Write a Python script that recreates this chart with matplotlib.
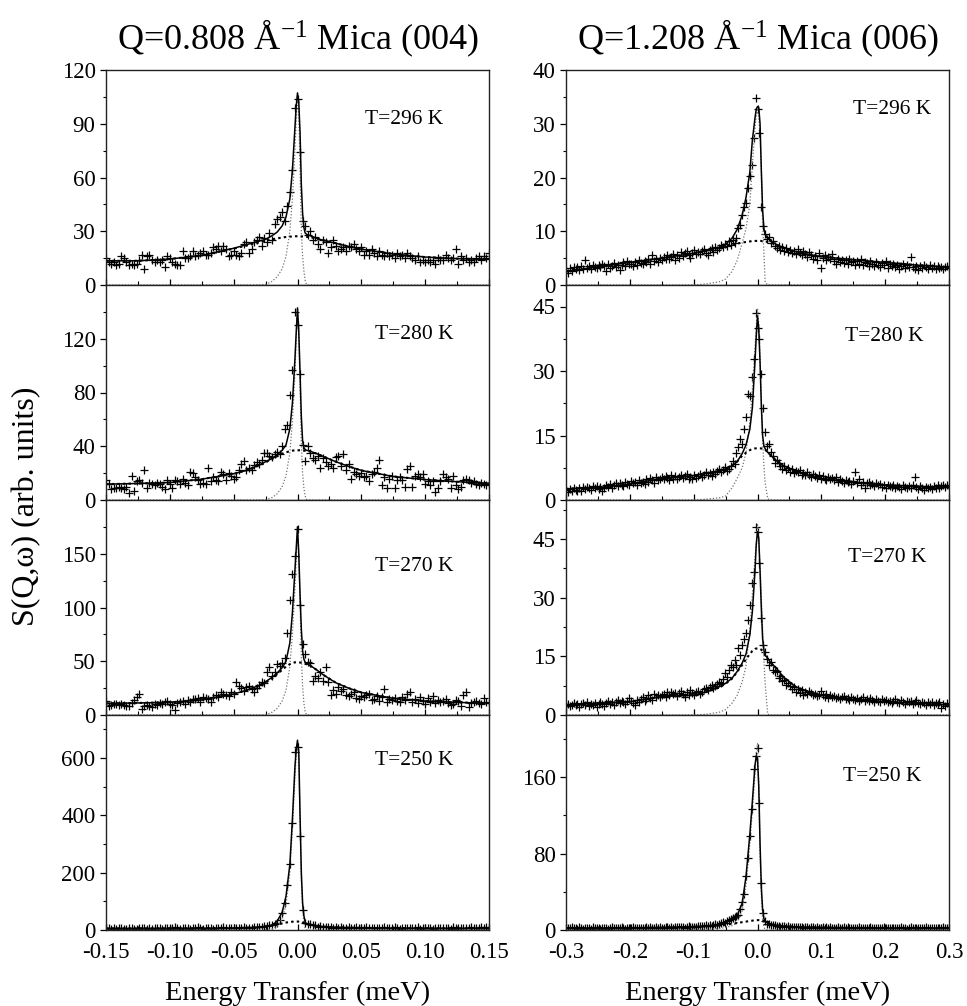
import numpy as np
import matplotlib
matplotlib.use('Agg')
import matplotlib.pyplot as plt
from matplotlib.ticker import FixedLocator, FormatStrFormatter

plt.rcParams.update({
    'font.family': 'Liberation Serif',
    'mathtext.fontset': 'custom',
    'mathtext.rm': 'Liberation Serif',
    'mathtext.it': 'Liberation Serif:italic',
    'axes.unicode_minus': False,
})

# ---------------- data: Q=0.808 (004), grid -0.15 .. 0.15 step 0.002 ----------------
q1_temps = ['T=296 K', 'T=280 K', 'T=270 K', 'T=250 K']

q1_296 = [15, 13, 12, 13, 11, 12, 16, 15, 13, 11,
          12, 11, 12, 14, 17, 9, 16, 17, 14, 13,
          14, 13, 14, 10, 16, 15, 13, 12, 11, 11,
          19, 15, 15, 16, 19, 16, 17, 18, 19, 17,
          17, 18, 21, 20, 22, 19, 22, 20, 16, 17,
          19, 17, 16, 18, 23, 24, 18, 20, 24, 25,
          27, 22, 26, 24, 29, 25, 34, 37, 38, 41,
          36, 44, 52, 64, 99, 104, 74, 36, 33, 28,
          30, 25, 27, 23, 20, 25, 24, 18, 21, 25,
          22, 19, 20, 21, 19, 22, 21, 23, 20, 19,
          21, 17, 19, 17, 20, 18, 16, 19, 17, 16,
          18, 16, 17, 15, 18, 16, 17, 15, 18, 16,
          15, 14, 16, 13, 14, 13, 14, 13, 14, 12,
          15, 14, 14, 17, 15, 14, 15, 20, 12, 16,
          14, 15, 13, 14, 13, 15, 16, 14, 16, 15,
          18]
q1_280 = [15, 12, 8, 9, 9, 10, 9, 8, 10, 5,
          18, 7, 14, 15, 13, 22, 9, 13, 12, 11,
          13, 12, 10, 8, 15, 12, 9, 15, 14, 12,
          16, 13, 11, 21, 20, 17, 15, 12, 13, 12,
          24, 14, 17, 15, 14, 21, 19, 15, 20, 18,
          16, 17, 22, 27, 29, 22, 24, 22, 26, 28,
          27, 30, 35, 35, 33, 32, 34, 36, 34, 40,
          53, 56, 78, 97, 140, 130, 94, 41, 29, 40,
          35, 31, 30, 33, 24, 31, 28, 25, 27, 24,
          32, 33, 25, 34, 22, 27, 16, 21, 19, 18,
          20, 17, 18, 14, 19, 21, 24, 30, 11, 17,
          9, 16, 18, 9, 15, 17, 15, 10, 23, 25,
          10, 18, 19, 17, 19, 12, 14, 11, 14, 6,
          9, 14, 19, 17, 16, 9, 18, 11, 8, 10,
          15, 16, 15, 13, 14, 12, 11, 13, 12, 11,
          12]
q1_270 = [13, 8, 9, 10, 10, 9, 10, 9, 8, 8,
          11, 14, 17, 20, 6, 8, 9, 8, 7, 10,
          9, 11, 10, 12, 13, 10, 9, 5, 11, 12,
          13, 10, 14, 12, 15, 15, 16, 12, 17, 16,
          15, 12, 17, 19, 17, 21, 20, 19, 18, 21,
          20, 31, 27, 25, 22, 26, 27, 24, 21, 25,
          28, 31, 30, 40, 45, 36, 40, 47, 46, 48,
          53, 76, 107, 131, 148, 173, 102, 66, 57, 49,
          48, 32, 36, 34, 40, 32, 45, 31, 19, 23,
          20, 26, 22, 24, 19, 18, 20, 21, 16, 15,
          18, 17, 19, 20, 14, 15, 18, 13, 17, 24,
          12, 15, 14, 16, 13, 12, 17, 14, 20, 21,
          12, 15, 11, 17, 13, 10, 16, 12, 18, 11,
          14, 12, 13, 15, 11, 9, 10, 14, 13, 8,
          19, 21, 7, 11, 12, 13, 11, 10, 16, 12,
          11]
q1_250 = [6, 8, 5, 7, 4, 6, 8, 5, 3, 6,
          7, 5, 4, 6, 8, 7, 5, 6, 4, 7,
          6, 8, 5, 7, 6, 4, 7, 9, 6, 5,
          7, 6, 8, 5, 6, 7, 9, 6, 5, 8,
          6, 7, 5, 8, 7, 6, 9, 7, 6, 8,
          7, 6, 8, 7, 9, 6, 8, 7, 9, 10,
          12, 11, 14, 13, 17, 16, 20, 24, 35, 59,
          94, 156, 229, 373, 621, 639, 328, 70, 23, 22,
          21, 17, 16, 12, 14, 10, 11, 9, 10, 8,
          9, 7, 10, 8, 7, 9, 8, 6, 9, 7,
          8, 6, 9, 7, 8, 6, 7, 8, 6, 9,
          7, 8, 6, 9, 7, 5, 8, 7, 6, 8,
          6, 7, 9, 5, 7, 8, 6, 7, 5, 8,
          7, 6, 8, 6, 7, 5, 9, 6, 7, 8,
          6, 8, 7, 9, 6, 7, 8, 10, 7, 9,
          8]

# fit curves (total / broad / narrow) read at these energies
q1_fit_e = [-0.15, -0.125, -0.1, -0.075, -0.05, -0.04, -0.03, -0.025, -0.02, -0.016,
            -0.012, -0.009, -0.006, -0.004, -0.002, -0.001, 0.0, 0.001, 0.002, 0.003,
            0.004, 0.005, 0.006, 0.007, 0.008, 0.01, 0.015, 0.02, 0.03, 0.04,
            0.05, 0.075, 0.1, 0.125, 0.15]
q1_total = [
    [13.5, 13.5, 14.5, 16.5, 20.5, 22.5, 24.5, 25.5, 27.5, 29.5, 33, 38, 48, 64, 88, 100, 107, 102,
     85, 56, 40, 32, 29, 28.4, 28, 27.5, 26, 25, 23.3, 21.5, 20, 17.3, 15.6, 14.7, 14.3],
    [11.8, 12.3, 13, 15.5, 19.5, 22, 26, 28.5, 31, 33.5, 37, 41, 53, 72, 105, 125, 143, 125,
     95, 62, 44, 39, 37.5, 37, 36.8, 36.3, 34.5, 32.5, 28.5, 25, 22, 17.5, 15.2, 13.6, 12.5],
    [10.8, 11.2, 11.8, 14, 19.5, 23, 27.5, 31, 35, 39, 44, 50, 67, 95, 135, 155, 175, 150,
     112, 80, 60, 52, 49, 48, 47.3, 46, 42, 37.5, 30, 25, 21, 15.5, 13, 11.7, 11],
    [5.5, 5.5, 5.7, 6, 7, 8, 10.5, 12.5, 17, 30, 62, 118, 228, 385, 570, 630, 662, 620,
     400, 200, 95, 50, 28, 22, 20, 17.5, 14, 12, 9.5, 8.2, 7.4, 6.4, 6, 5.7, 5.6],
]
q1_broad = [
    [13.5, 13.5, 14.5, 16.5, 20.3, 22, 23.8, 24.7, 25.5, 26, 26.5, 26.8, 27, 27.1, 27.2, 27.2, 27.2, 27.2,
     27.2, 27.1, 27.1, 27, 27, 26.9, 26.8, 26.6, 25.9, 25, 23.3, 21.5, 20, 17.3, 15.6, 14.7, 14.3],
    [11.8, 12.3, 13, 15.5, 19.5, 22, 25.7, 28, 30.5, 32.5, 34.5, 35.5, 36.3, 36.7, 37, 37, 37, 37,
     37, 36.9, 36.8, 36.7, 36.6, 36.5, 36.3, 36, 34.5, 32.5, 28.5, 25, 22, 17.5, 15.2, 13.6, 12.5],
    [10.8, 11.2, 11.8, 14, 19.5, 23, 27, 30, 34, 38, 42, 45, 47.3, 48.3, 49, 49, 49, 49,
     48.8, 48.6, 48.3, 48, 47.6, 47.2, 46.8, 45.8, 42, 37.5, 30, 25, 21, 15.5, 13, 11.7, 11],
    [5.5, 5.5, 5.7, 6, 7, 8, 10, 11.5, 15, 19, 23, 26, 28, 29, 29.5, 29.5, 29.5, 29.3,
     29, 28.5, 27, 25.5, 24, 22, 20, 17.5, 14, 12, 9.5, 8.2, 7.4, 6.4, 6, 5.7, 5.6],
]
q1_narrow = [
    [0, 0, 0, 0, 0, 0, 0, 0.3, 2, 4.5, 9, 16, 30, 48, 75, 92, 108, 95,
     65, 30, 16, 8, 2.5, 0.3, 0, 0, 0, 0, 0, 0, 0, 0, 0, 0, 0],
    [0, 0, 0, 0, 0, 0, 0, 0.2, 1.8, 4.5, 10, 18, 35, 58, 95, 120, 143, 125,
     85, 42, 20, 9, 3, 0.5, 0, 0, 0, 0, 0, 0, 0, 0, 0, 0, 0],
    [0, 0, 0, 0, 0, 0, 0, 0.3, 2.5, 6, 13, 23, 45, 75, 118, 145, 175, 150,
     105, 55, 27, 11, 3.5, 0.5, 0, 0, 0, 0, 0, 0, 0, 0, 0, 0, 0],
    [0, 0, 0, 0, 0, 0, 0.2, 1, 4, 12, 38, 88, 200, 355, 535, 610, 650, 600,
     380, 175, 72, 25, 6, 1, 0, 0, 0, 0, 0, 0, 0, 0, 0, 0, 0],
]

# ---------------- data: Q=1.208 (006), grid -0.3 .. 0.3 step 0.003 ----------------
q2_temps = ['T=296 K', 'T=280 K', 'T=270 K', 'T=250 K']

q2_296 = [2.8, 2.2, 3.1, 2.6, 3.4, 2.9, 3.3, 2.7, 3.6, 3.0,
          4.6, 3.2, 3.5, 2.9, 3.8, 3.4, 3.1, 3.7, 3.3, 4.0,
          3.5, 2.6, 3.9, 3.2, 3.6, 4.1, 3.4, 3.8, 2.8, 3.7,
          4.2, 3.6, 4.4, 3.9, 4.0, 3.5, 4.3, 3.8, 4.6, 4.1,
          3.9, 4.5, 4.2, 4.8, 4.0, 5.5, 4.4, 4.9, 4.3, 5.1,
          4.7, 5.2, 4.8, 5.6, 4.9, 5.3, 5.8, 4.7, 5.5, 5.0,
          6.2, 5.4, 5.9, 6.4, 5.6, 5.1, 6.0, 6.5, 5.7, 6.1,
          5.8, 6.3, 6.7, 6.0, 5.5, 6.6, 6.9, 6.2, 7.1, 6.5,
          6.8, 7.4, 7.0, 7.6, 7.2, 8.1, 7.5, 8.4, 7.9, 8.8,
          10.6, 11.2, 13.0, 14.5, 15.2, 18.0, 20.2, 22.3, 27.3, 34.7,
          32.8, 28.2, 14.6, 10.9, 9.4, 8.6, 9.0, 7.8, 8.2, 7.2,
          6.8, 7.3, 6.5, 7.0, 6.3, 6.9, 6.1, 6.6, 5.9, 6.4,
          5.8, 6.7, 6.0, 5.5, 6.3, 5.7, 5.2, 6.1, 5.6, 4.9,
          5.4, 4.7, 5.9, 3.1, 5.0, 5.5, 4.6, 5.2, 4.8, 5.7,
          4.5, 3.9, 4.9, 4.3, 4.7, 4.1, 4.6, 4.0, 4.8, 4.2,
          4.5, 3.8, 4.4, 4.0, 4.9, 3.7, 4.3, 4.1, 3.6, 4.5,
          4.0, 3.5, 4.2, 3.8, 3.3, 4.1, 3.7, 4.4, 3.2, 3.9,
          3.6, 4.0, 3.4, 3.8, 2.9, 3.5, 3.9, 3.1, 3.7, 3.3,
          5.2, 3.4, 3.0, 3.6, 2.8, 3.5, 3.2, 3.8, 3.3, 3.0,
          3.7, 3.2, 3.5, 2.9, 3.6, 3.1, 3.4, 3.0, 3.3, 3.5,
          3.1]
q2_280 = [2.3, 1.8, 2.6, 2.1, 2.9, 2.4, 2.0, 2.7, 2.2, 3.0,
          2.5, 3.1, 2.7, 2.3, 3.2, 2.8, 3.3, 2.6, 3.0, 2.2,
          2.9, 3.4, 3.1, 3.7, 2.8, 3.5, 3.9, 3.2, 4.0, 3.6,
          3.3, 4.2, 3.8, 3.5, 4.4, 3.9, 4.1, 3.6, 4.6, 4.0,
          4.3, 3.7, 4.8, 4.2, 5.1, 4.6, 4.0, 5.3, 4.7, 5.0,
          5.4, 4.8, 5.6, 5.2, 4.6, 5.9, 5.0, 5.5, 4.9, 5.3,
          5.7, 5.1, 5.5, 6.1, 4.8, 5.4, 5.0, 5.8, 5.2, 5.6,
          6.0, 5.3, 5.9, 6.4, 5.7, 6.2, 5.5, 6.6, 6.1, 6.8,
          7.2, 6.5, 7.0, 7.6, 6.8, 7.3, 8.0, 9.1, 8.4, 11.0,
          12.3, 14.2, 13.0, 16.5, 19.2, 24.6, 24.2, 28.5, 32.8, 43.6,
          40.0, 37.4, 29.3, 21.5, 15.7, 12.6, 13.0, 11.2, 10.3, 8.7,
          9.4, 8.6, 7.9, 7.2, 7.8, 6.9, 7.4, 6.5, 7.1, 6.3,
          6.8, 6.4, 6.9, 5.9, 6.2, 5.7, 6.5, 5.8, 5.3, 6.0,
          5.5, 5.2, 5.8, 4.9, 5.6, 5.0, 4.6, 5.4, 4.8, 5.1,
          4.6, 5.3, 4.2, 4.9, 4.4, 3.9, 4.7, 4.1, 4.5, 3.8,
          4.4, 6.5, 4.0, 5.0, 3.6, 4.3, 2.7, 3.9, 4.2, 3.5,
          3.8, 3.2, 4.0, 3.4, 3.7, 3.1, 3.5, 2.9, 3.6, 3.3,
          3.0, 3.6, 2.8, 3.3, 3.1, 2.6, 3.4, 3.0, 2.7, 3.2,
          2.9, 3.4, 5.3, 3.0, 2.6, 3.2, 2.8, 2.4, 3.1, 2.7,
          3.0, 2.6, 3.3, 2.9, 3.5, 2.8, 3.2, 3.6, 3.0, 3.4,
          3.2]
q2_270 = [2.4, 2.9, 2.2, 2.6, 3.0, 2.5, 2.8, 2.1, 2.7, 3.1,
          2.6, 3.2, 2.3, 2.9, 2.5, 3.1, 2.0, 2.7, 3.3, 2.8,
          2.4, 3.0, 3.5, 2.8, 3.2, 2.6, 3.4, 3.9, 3.1, 3.6,
          3.3, 2.9, 3.7, 4.3, 3.5, 3.1, 2.6, 3.8, 3.4, 4.0,
          4.6, 3.7, 4.2, 5.0, 4.4, 3.9, 5.3, 4.7, 5.2, 4.5,
          5.0, 5.5, 4.6, 5.8, 5.2, 6.0, 5.4, 5.7, 4.9, 5.6,
          6.1, 5.3, 4.7, 5.9, 5.1, 6.4, 5.6, 5.0, 5.8, 6.2,
          5.5, 6.0, 6.6, 7.0, 6.3, 7.2, 7.7, 6.9, 7.4, 8.0,
          8.5, 8.1, 9.2, 10.7, 9.8, 11.4, 12.8, 12.4, 14.1, 12.9,
          17.1, 15.3, 17.8, 19.4, 21.0, 24.3, 28.1, 33.7, 36.7, 48.2,
          46.9, 38.8, 24.7, 17.9, 16.2, 14.3, 12.8, 13.5, 11.5, 10.9,
          11.2, 9.4, 10.1, 8.6, 9.0, 7.7, 8.3, 7.4, 6.6, 7.1,
          6.0, 6.7, 5.6, 6.3, 5.1, 5.9, 5.4, 6.1, 5.7, 5.0,
          5.5, 4.9, 5.2, 6.1, 5.0, 4.7, 5.4, 4.4, 5.1, 4.6,
          4.9, 4.3, 4.7, 4.0, 4.5, 4.8, 4.1, 4.4, 3.8, 4.6,
          4.2, 3.9, 4.4, 3.6, 4.1, 4.6, 3.7, 4.0, 3.5, 4.3,
          3.8, 3.4, 4.0, 3.6, 3.2, 4.1, 3.5, 3.9, 3.3, 3.7,
          3.1, 3.6, 4.2, 3.4, 3.0, 3.8, 3.3, 2.9, 3.6, 3.2,
          3.5, 2.8, 3.3, 3.9, 3.1, 2.7, 3.4, 3.0, 2.6, 3.2,
          2.9, 3.3, 2.5, 3.0, 2.7, 3.2, 1.9, 2.8, 2.2, 3.0,
          2.6]
q2_250 = [2.5, 1.6, 2.2, 3.0, 1.8, 2.4, 1.5, 2.7, 2.0, 1.3,
          2.6, 1.9, 2.3, 1.4, 2.8, 2.1, 1.7, 2.5, 1.2, 2.2,
          1.8, 2.6, 1.5, 2.3, 2.9, 1.9, 2.4, 1.6, 2.1, 2.7,
          2.0, 1.4, 2.5, 2.2, 1.7, 2.8, 2.3, 1.9, 2.6, 2.1,
          2.4, 1.8, 2.9, 2.2, 3.1, 2.5, 1.9, 2.7, 2.3, 3.0,
          2.6, 2.1, 2.9, 3.3, 2.4, 2.8, 2.2, 3.1, 2.7, 3.4,
          2.9, 3.5, 2.6, 3.2, 3.8, 3.0, 3.6, 2.8, 3.4, 4.0,
          3.7, 4.3, 3.9, 4.8, 4.1, 5.0, 4.6, 5.5, 5.9, 5.3,
          6.6, 7.0, 8.2, 7.7, 9.5, 10.6, 11.4, 12.3, 14.1, 14.9,
          16, 22, 29, 38, 57, 75, 98, 127, 168, 182,
          190, 133, 49, 18, 9.0, 6.8, 6.2, 5.3, 4.9, 5.4,
          4.5, 4.1, 3.6, 4.3, 3.9, 3.3, 3.8, 3.0, 3.5, 3.2,
          3.6, 2.8, 3.3, 3.0, 2.6, 3.4, 2.9, 2.5, 3.1, 2.7,
          2.4, 3.0, 2.6, 2.2, 2.9, 2.5, 3.1, 2.3, 2.7, 2.1,
          2.6, 2.0, 2.8, 2.4, 1.9, 2.7, 2.3, 2.9, 2.1, 2.5,
          1.8, 2.6, 2.2, 2.9, 2.0, 2.4, 1.7, 2.5, 2.1, 2.8,
          2.3, 1.9, 2.6, 2.0, 2.4, 1.6, 2.7, 2.2, 1.8, 2.5,
          2.1, 2.6, 1.7, 2.3, 2.0, 2.8, 1.9, 2.4, 1.5, 2.2,
          2.7, 2.0, 2.4, 1.8, 2.5, 2.1, 1.6, 2.3, 2.9, 2.0,
          2.4, 1.9, 2.6, 2.2, 1.7, 2.5, 2.0, 2.8, 2.3, 1.8,
          2.5]

q2_fit_e = [-0.3, -0.25, -0.2, -0.15, -0.1, -0.08, -0.06, -0.05, -0.04, -0.032,
            -0.024, -0.018, -0.012, -0.008, -0.004, -0.002, 0.0, 0.002, 0.004, 0.006,
            0.008, 0.01, 0.012, 0.016, 0.02, 0.03, 0.04, 0.06, 0.08, 0.1,
            0.15, 0.2, 0.25, 0.3]
q2_total = [
    [2.5, 3.4, 4.2, 5.0, 5.9, 6.5, 7.0, 7.6, 8.7, 10.3, 13, 16.3, 21, 27, 31, 32.7, 33.2,
     33, 30, 21.4, 14, 10.5, 9.4, 8.7, 8.3, 7.5, 7.0, 6.2, 5.7, 5.3, 4.7, 4.2, 3.7, 3.3],
    [2.6, 2.9, 3.7, 5.0, 5.7, 6.2, 6.8, 7.2, 8.0, 8.9, 10.8, 12.8, 16.5, 21.5, 32, 38, 42.8,
     39.7, 32, 22, 15, 12.6, 11.9, 11.1, 10.5, 9.1, 8.0, 6.8, 5.7, 5.0, 4.1, 3.5, 3.2, 2.9],
    [2.6, 3.0, 3.4, 4.7, 5.1, 5.9, 7.2, 8.1, 9.4, 11.1, 13.3, 15.6, 20.5, 26.5, 36.7, 43.5, 46.9,
     45.2, 36.7, 27.3, 19.6, 16.6, 15.3, 14.5, 13.6, 11.9, 9.8, 7.2, 6.0, 5.1, 3.8, 3.4, 3.0, 2.6],
    [2.0, 2.0, 2.2, 2.6, 3.5, 4.0, 5.5, 7.5, 11, 15, 28, 56, 100, 135, 172, 182, 180,
     150, 90, 45, 22, 12, 8.5, 7.5, 6.5, 5.0, 4.2, 3.3, 2.9, 2.6, 2.3, 2.1, 2.0, 2.0],
]
q2_broad = [
    [2.5, 3.4, 4.2, 5.0, 5.9, 6.4, 6.9, 7.2, 7.5, 7.7, 7.9, 8.0, 8.1, 8.2, 8.2, 8.2, 8.2,
     8.2, 8.2, 8.2, 8.1, 8.1, 8.1, 8.0, 7.9, 7.5, 7.0, 6.2, 5.7, 5.3, 4.7, 4.2, 3.7, 3.3],
    [2.6, 2.9, 3.7, 5.0, 5.7, 6.2, 6.8, 7.2, 8.0, 8.9, 10.3, 11.0, 11.6, 11.9, 12.0, 12.0, 12.0,
     12.0, 12.0, 12.0, 11.9, 11.8, 11.7, 11.1, 10.5, 9.1, 8.0, 6.8, 5.7, 5.0, 4.1, 3.5, 3.2, 2.9],
    [2.6, 3.0, 3.4, 4.7, 5.1, 5.9, 7.0, 8.0, 9.3, 11.0, 12.8, 14.3, 15.6, 16.4, 16.9, 17.0, 17.0,
     17.0, 16.9, 16.7, 16.4, 15.9, 15.3, 14.4, 13.5, 11.9, 9.8, 7.2, 6.0, 5.1, 3.8, 3.4, 3.0, 2.6],
    [2.0, 2.0, 2.2, 2.5, 3.2, 3.8, 4.8, 5.5, 6.5, 7.3, 8.2, 8.8, 9.4, 9.8, 10.1, 10.2, 10.3,
     10.3, 10.2, 10.0, 9.7, 9.3, 8.5, 7.3, 6.4, 5.0, 4.2, 3.3, 2.9, 2.6, 2.3, 2.1, 2.0, 2.0],
]
q2_narrow = [
    [0, 0, 0, 0, 0, 0.2, 0.6, 1.1, 2.5, 4.5, 7.8, 10.5, 15, 22.5, 29, 31.5, 32.6,
     31, 28, 21, 12, 6, 0.5, 0, 0, 0, 0, 0, 0, 0, 0, 0, 0, 0],
    [0, 0, 0, 0, 0, 0.2, 0.5, 0.9, 2.8, 5, 7.5, 11, 18, 26, 35, 40, 44.5,
     41, 33, 24, 14, 8, 4, 0.3, 0, 0, 0, 0, 0, 0, 0, 0, 0, 0],
    [0, 0, 0, 0, 0, 0.2, 0.7, 1.4, 3, 5, 8.5, 12.5, 22, 31, 40, 44, 49,
     45, 38, 30, 22, 14, 8, 0.2, 0, 0, 0, 0, 0, 0, 0, 0, 0, 0],
    [0, 0, 0, 0, 0.5, 1.0, 1.5, 2.5, 4.5, 7.5, 20, 47, 90, 125, 162, 185, 195,
     150, 82, 36, 12, 3, 0.5, 0, 0, 0, 0, 0, 0, 0, 0, 0, 0, 0],
]

q1_ylims = [120, 160, 200, 750]
q1_major = [[0, 30, 60, 90, 120], [0, 40, 80, 120], [0, 50, 100, 150], [0, 200, 400, 600]]
q1_minor = [[15, 45, 75, 105], [20, 60, 100, 140], [25, 75, 125, 175], [100, 300, 500, 700]]
q2_ylims = [40, 50, 55, 225]
q2_major = [[0, 10, 20, 30, 40], [0, 15, 30, 45], [0, 15, 30, 45], [0, 80, 160]]
q2_minor = [[5, 15, 25, 35], [7.5, 22.5, 37.5], [7.5, 22.5, 37.5, 52.5], [40, 120, 200]]

q1_label_pos = [(0.676, 0.77), (0.702, 0.77), (0.702, 0.69), (0.702, 0.79)]
q2_label_pos = [(0.749, 0.814), (0.728, 0.76), (0.736, 0.734), (0.723, 0.714)]

# ---------------- figure ----------------
W, H = 967, 1006
fig = plt.figure(figsize=(W / 100, H / 100), dpi=100)

top_px, panel_px = 70, 215
col_x = [106, 566]
ax_w = 383


def panel(col, row):
    y_bot = 1 - (top_px + panel_px * (row + 1)) / H
    return fig.add_axes([col_x[col] / W, y_bot, ax_w / W, panel_px / H])


def draw(ax, e, y, fe, tot, broad, narrow, ylim, major, minor, label, pos, xlim, xmaj, xmin, fmt, bottom):
    ax.plot(e, y, '+', color='k', ms=5.5, mew=0.9)
    ax.plot(fe, narrow, color='0.45', lw=0.9, ls=(0, (1, 1.5)))
    ax.plot(fe, broad, color='k', lw=1.5, ls=(0, (1.2, 1.5)))
    ax.plot(fe, tot, color='k', lw=1.1)
    ax.set_xlim(*xlim)
    ax.set_ylim(0, ylim)
    ax.yaxis.set_major_locator(FixedLocator(major))
    ax.yaxis.set_minor_locator(FixedLocator(minor))
    ax.xaxis.set_major_locator(FixedLocator(xmaj))
    ax.xaxis.set_minor_locator(FixedLocator(xmin))
    ax.xaxis.set_major_formatter(FormatStrFormatter(fmt))
    ax.tick_params(axis='y', which='major', direction='out', length=4.5, width=0.9, labelsize=16.5, pad=3)
    ax.tick_params(axis='y', which='minor', direction='out', length=2.5, width=0.8)
    ax.tick_params(axis='x', which='major', direction='in', length=4, width=0.9, labelsize=16.5, pad=9,
                   top=False, labelbottom=bottom)
    ax.tick_params(axis='x', which='minor', direction='in', length=3, width=0.8, top=False)
    for s in ax.spines.values():
        s.set_color('#222222')
        s.set_linewidth(1.0)
    ax.text(pos[0], pos[1], label, transform=ax.transAxes, fontsize=15.5, ha='left', va='center')


q1_data = [q1_296, q1_280, q1_270, q1_250]
q2_data = [q2_296, q2_280, q2_270, q2_250]

for r in range(4):
    ax = panel(0, r)
    ee = -0.15 + 0.002 * np.arange(len(q1_data[r]))
    draw(ax, ee, q1_data[r], q1_fit_e, q1_total[r], q1_broad[r], q1_narrow[r],
         q1_ylims[r], q1_major[r], q1_minor[r], q1_temps[r], q1_label_pos[r],
         (-0.15, 0.15), np.arange(-0.15, 0.151, 0.05), np.arange(-0.125, 0.13, 0.05), '%.2f', r == 3)
    if r == 0:
        ax.set_title('Q=0.808 Å$^{-1}$ Mica (004)', fontsize=26, pad=15)

    ax = panel(1, r)
    ee = -0.3 + 0.003 * np.arange(len(q2_data[r]))
    draw(ax, ee, q2_data[r], q2_fit_e, q2_total[r], q2_broad[r], q2_narrow[r],
         q2_ylims[r], q2_major[r], q2_minor[r], q2_temps[r], q2_label_pos[r],
         (-0.3, 0.3), np.arange(-0.3, 0.301, 0.1), np.arange(-0.25, 0.26, 0.1), '%.1f', r == 3)
    if r == 0:
        ax.set_title('Q=1.208 Å$^{-1}$ Mica (006)', fontsize=26, pad=15)

for c in range(2):
    fig.text((col_x[c] + ax_w / 2) / W, 1 - 1000 / H, 'Energy Transfer (meV)',
             ha='center', va='baseline', fontsize=20.5)

fig.text(0.027, 0.497, 'S(Q,ω) (arb. units)', rotation=90, ha='center', va='center', fontsize=23)

fig.savefig('out.png', dpi=100)
